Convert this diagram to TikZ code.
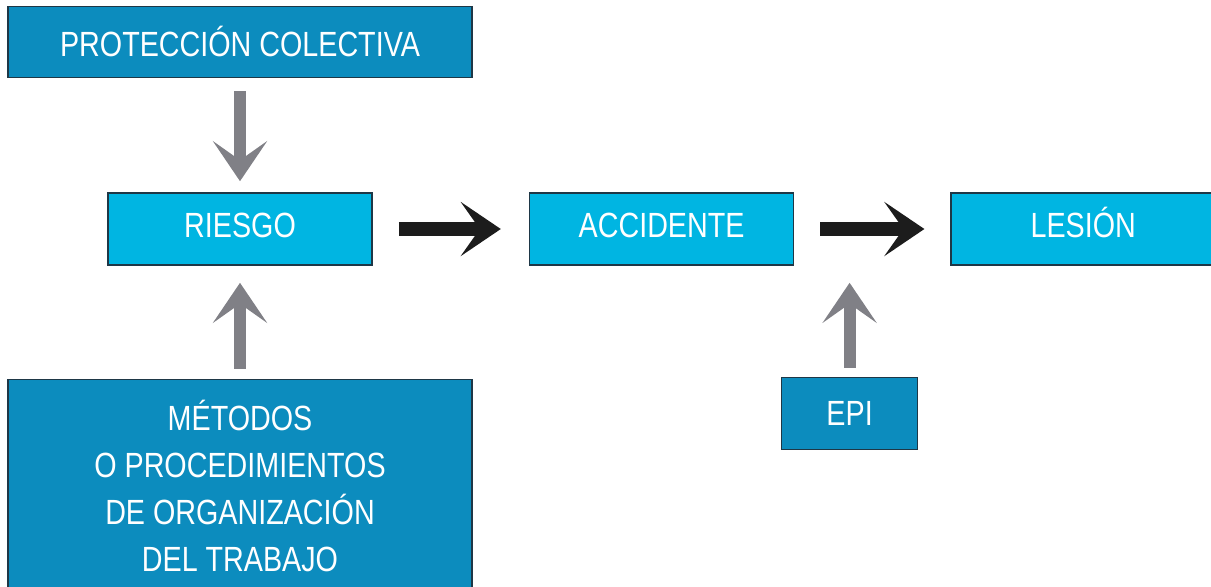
\documentclass[tikz,border=0pt]{standalone}
\usepackage{fontspec}
\setmainfont{Liberation Sans}[FakeStretch=0.82]
\usetikzlibrary{positioning,arrows.meta}
\definecolor{darkbox}{RGB}{12,140,190}
\definecolor{lightbox}{RGB}{0,181,226}
\definecolor{boxline}{RGB}{30,55,70}
\definecolor{arrowgray}{RGB}{128,128,134}
\definecolor{arrowblack}{RGB}{28,28,28}

\begin{document}
\begin{tikzpicture}[every node/.style={rectangle, draw=boxline, line width=0.8pt, text=white, align=center, inner sep=0pt, font=\fontsize{17.5pt}{23.5pt}\selectfont},
    darkbox/.style={fill=darkbox},
    lightbox/.style={fill=lightbox, minimum width=132pt, minimum height=36pt, text height=12.5pt, text depth=4pt},
    grayarrow/.style={draw=arrowgray, line width=6pt, -{Stealth[length=20pt, width=27pt, inset=9.5pt]}},
    blackarrow/.style={draw=arrowblack, line width=7pt, -{Stealth[length=20pt, width=27pt, inset=9.5pt]}}]
    
    \useasboundingbox (0,0) rectangle (605.5pt,-293pt);
    
    \node[lightbox] (riesgo) at (120pt,-114.5pt) {RIESGO};
    \node[lightbox, right=78pt of riesgo] (accidente) {ACCIDENTE};
    \node[lightbox, right=78pt of accidente] (lesion) {LESIÓN};
    
    \node[darkbox, above=57pt of riesgo, minimum width=232pt, minimum height=35.5pt] (proteccion) {PROTECCIÓN COLECTIVA};
    \node[darkbox, below=56.5pt of riesgo, minimum width=232pt, minimum height=106pt] (metodos) {MÉTODOS\\O PROCEDIMIENTOS\\DE ORGANIZACIÓN\\DEL TRABAJO};
    \node[darkbox, below=55.5pt of accidente, xshift=94pt, minimum width=68pt, minimum height=36pt] (epi) {EPI};
    
    \draw[grayarrow, shorten <=6.5pt, shorten >=5.5pt] (proteccion) -- (riesgo);
    \draw[grayarrow, shorten <=5pt, shorten >=8.5pt] (metodos) -- (riesgo);
    \draw[blackarrow, shorten <=13pt, shorten >=14pt] (riesgo) -- (accidente);
    \draw[blackarrow, shorten <=13pt, shorten >=13pt] (accidente) -- (lesion);
    \draw[grayarrow, shorten <=4.5pt, shorten >=8.5pt] (epi.north) -- (epi.north |- accidente.south);
\end{tikzpicture}
\end{document}
